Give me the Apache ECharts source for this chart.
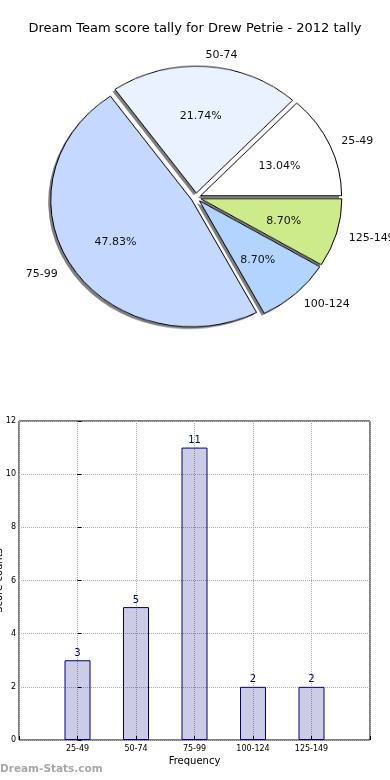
<!DOCTYPE html>
<html><head><meta charset="utf-8">
<script src="https://cdn.jsdelivr.net/npm/echarts@6/dist/echarts.min.js"></script>
<style>
html,body{margin:0;padding:0;background:#fff;width:390px;height:780px;overflow:hidden}
#pie{position:absolute;left:0;top:0;width:390px;height:395px;transform:scaleY(0.9);transform-origin:196px 197.5px;z-index:1}
#main{position:absolute;left:0;top:0;width:390px;height:780px;z-index:2}
</style></head><body>
<div id="pie"></div><div id="main"></div>
<script>
const chartTitle = 'Dream Team score tally for Drew Petrie - 2012 tally';
const categories = ['25-49', '50-74', '75-99', '100-124', '125-149'];
const counts = [3, 5, 11, 2, 2];
const yMin = 0, yMax = 12, yStep = 2;
const xAxisName = 'Frequency';
const yAxisName = 'Score counts';
const watermark = 'Dream-Stats.com';

const sliceColors = ['#ffffff', '#eaf1ff', '#c5d8ff', '#b3d4ff', '#cdeb8b'];
const FONT = 'DejaVu Sans';
const CX = 196, CY = 197.5, RX = 141, SY = 0.9, EXPLODE = 5;
const LCX = 194.5, LCY = 199;
const total = counts.reduce((a, b) => a + b, 0);

const pieBase = {
  type: 'pie', center: [CX, CY], radius: RX, startAngle: 0, clockwise: false,
  selectedMode: 'multiple', selectedOffset: EXPLODE, avoidLabelOverlap: false,
  label: {show: false}, labelLine: {show: false}, emphasis: {disabled: true}, silent: true
};
const pie = echarts.init(document.getElementById('pie'), null, {renderer: 'canvas'});
pie.setOption({
  animation: false,
  series: [
    Object.assign({}, pieBase, {
      itemStyle: {borderWidth: 0, shadowColor: 'rgba(0,0,0,0.5)', shadowOffsetX: -2.5, shadowOffsetY: 2.5, shadowBlur: 0},
      data: categories.map((c, i) => ({name: c, value: counts[i], selected: true, itemStyle: {color: sliceColors[i]}}))
    }),
    Object.assign({}, pieBase, {
      itemStyle: {borderColor: '#000', borderWidth: 1},
      data: categories.map((c, i) => ({name: c, value: counts[i], selected: true, itemStyle: {color: sliceColors[i]}}))
    })
  ]
});

function squash(p) {
  const r = p.labelRect;
  const cyL = r.y + r.height / 2;
  return {dy: (cyL - LCY) * (SY - 1)};
}
const labelData = categories.map((c, i) => ({name: c, value: counts[i]}));
const main = echarts.init(document.getElementById('main'), null, {renderer: 'canvas'});
main.setOption({
  animation: false,
  textStyle: {fontFamily: FONT},
  title: [
    {text: chartTitle, left: 'center', top: 22, padding: 0, textStyle: {fontFamily: FONT, fontSize: 13, fontWeight: 'normal', color: '#000'}},
    {text: watermark, left: 0, top: 764, padding: 0, textStyle: {fontFamily: FONT, fontSize: 10.5, fontWeight: 'bold', color: '#a8a8a8'}}
  ],
  grid: {left: 19, right: 20, top: 421, bottom: 40, containLabel: false, outerBoundsMode: 'none', show: true, borderColor: '#000', borderWidth: 1},
  xAxis: {
    type: 'value', min: -1, max: categories.length, interval: 1,
    axisLine: {show: false},
    axisTick: {show: true, inside: true, length: 4, lineStyle: {color: '#000'}},
    splitLine: {show: true, lineStyle: {type: 'dotted', color: '#aaa'}},
    axisLabel: {formatter: v => (categories[v] !== undefined ? categories[v] : ''), fontSize: 8, color: '#000', margin: 5},
    name: xAxisName, nameLocation: 'middle', nameGap: 16, nameMoveOverlap: false, nameTextStyle: {fontSize: 10, color: '#000'}
  },
  yAxis: {
    type: 'value', min: yMin, max: yMax, interval: yStep,
    axisLine: {show: false},
    axisTick: {show: true, inside: true, length: 4, lineStyle: {color: '#000'}},
    splitLine: {show: true, lineStyle: {type: 'dotted', color: '#aaa'}},
    axisLabel: {fontSize: 8, color: '#000', margin: 3},
    name: yAxisName, nameLocation: 'middle', nameGap: 15, nameMoveOverlap: false, nameTextStyle: {fontSize: 10, color: '#000'}
  },
  series: [
    {
      type: 'bar', data: counts.map((v, i) => [i, v]), barWidth: 26,
      itemStyle: {color: 'rgba(0,0,128,0.2)', borderColor: '#000080', borderWidth: 1},
      label: {show: true, position: 'top', distance: 2, color: '#000080', fontSize: 10, formatter: p => String(p.value[1])}
    },
    {
      type: 'pie', center: [LCX, LCY], radius: RX + EXPLODE, startAngle: 0, clockwise: false, silent: true,
      avoidLabelOverlap: false,
      itemStyle: {color: 'rgba(0,0,0,0)', borderWidth: 0},
      label: {show: true, position: 'outside', fontSize: 11, color: '#111', distanceToLabelLine: 0, formatter: '{b}'},
      labelLine: {show: false, length: RX * 0.1, length2: 0},
      labelLayout: squash,
      data: labelData
    },
    {
      type: 'pie', center: [LCX, LCY], radius: [0, 2 * (RX * 0.6 + EXPLODE)], startAngle: 0, clockwise: false, silent: true,
      avoidLabelOverlap: false,
      itemStyle: {color: 'rgba(0,0,0,0)', borderWidth: 0},
      label: {show: true, position: 'inside', fontSize: 11, color: '#111', formatter: p => (p.value / total * 100).toFixed(2) + '%'},
      labelLine: {show: false},
      labelLayout: squash,
      data: labelData
    }
  ]
});
</script>
</body></html>
